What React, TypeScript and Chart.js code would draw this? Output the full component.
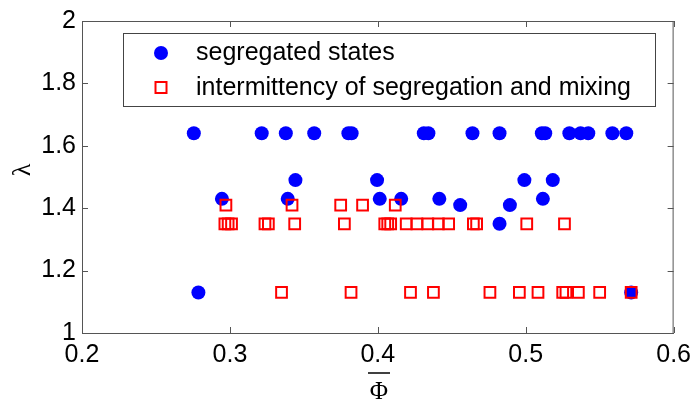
import React, { useEffect, useRef } from 'react';
import { Chart, registerables } from 'chart.js';
Chart.register(...registerables);

const xTicks = [0.2, 0.3, 0.4, 0.5, 0.6];
const yTicks = [1, 1.2, 1.4, 1.6, 1.8, 2];

const segLabel = 'segregated states';
const interLabel = 'intermittency of segregation and mixing';
const xTitle = 'Φ';
const yTitle = 'λ';

const segX = [
  0.2756, 0.3215, 0.3378, 0.357, 0.3801, 0.3823, 0.4311, 0.4342, 0.464, 0.4823, 0.5109, 0.5132, 0.5295, 0.5371, 0.5423, 0.5586, 0.568,
  0.3443, 0.3995, 0.4991, 0.5183,
  0.2946, 0.3391, 0.4013, 0.4158, 0.4416, 0.5116,
  0.4557, 0.4893,
  0.4823,
  0.2787, 0.5713,
];
const segY = [
  1.64, 1.64, 1.64, 1.64, 1.64, 1.64, 1.64, 1.64, 1.64, 1.64, 1.64, 1.64, 1.64, 1.64, 1.64, 1.64, 1.64,
  1.49, 1.49, 1.49, 1.49,
  1.43, 1.43, 1.43, 1.43, 1.43, 1.43,
  1.41, 1.41,
  1.35,
  1.13, 1.13,
];

const interX = [
  0.2973, 0.342, 0.3749, 0.3897, 0.4118,
  0.2966, 0.2988, 0.3011, 0.3237, 0.326, 0.3438, 0.3774, 0.4047, 0.4067, 0.4087, 0.4192, 0.4264, 0.4338, 0.4409, 0.4479, 0.4646, 0.4668, 0.5007, 0.5262,
  0.3349, 0.3819, 0.4221, 0.4376, 0.4758, 0.4957, 0.5083, 0.525, 0.5272, 0.5356, 0.55, 0.5713,
];
const interY = [
  1.41, 1.41, 1.41, 1.41, 1.41,
  1.35, 1.35, 1.35, 1.35, 1.35, 1.35, 1.35, 1.35, 1.35, 1.35, 1.35, 1.35, 1.35, 1.35, 1.35, 1.35, 1.35, 1.35, 1.35,
  1.13, 1.13, 1.13, 1.13, 1.13, 1.13, 1.13, 1.13, 1.13, 1.13, 1.13, 1.13,
];

const FONT = "'Liberation Sans', Arial, Helvetica, sans-serif";
const SERIF = "'Liberation Serif', 'Times New Roman', serif";
const AXIS = '#555555';

const decorPlugin = {
  id: 'decor',
  afterDraw(chart: any) {
    const ctx = chart.ctx;
    const { left, right, top, bottom } = chart.chartArea;
    const xs = chart.scales.x;
    const ys = chart.scales.y;
    ctx.save();
    ctx.strokeStyle = AXIS;
    ctx.lineWidth = 1;
    // box
    ctx.beginPath();
    ctx.moveTo(left, top + 0.5);
    ctx.lineTo(right, top + 0.5);
    ctx.moveTo(right - 0.5, top);
    ctx.lineTo(right - 0.5, bottom);
    ctx.stroke();
    // inward ticks
    const tl = 6;
    ctx.beginPath();
    xTicks.forEach((v) => {
      const px = Math.round(xs.getPixelForValue(v)) + 0.5;
      ctx.moveTo(px, bottom);
      ctx.lineTo(px, bottom - tl);
      ctx.moveTo(px, top);
      ctx.lineTo(px, top + tl);
    });
    yTicks.forEach((v) => {
      const py = Math.round(ys.getPixelForValue(v)) + 0.5;
      ctx.moveTo(left, py);
      ctx.lineTo(left + tl, py);
      ctx.moveTo(right, py);
      ctx.lineTo(right - tl, py);
    });
    ctx.stroke();

    // legend
    const lx = 123.5, ly = 33.5, lw = 532, lh = 73;
    ctx.fillStyle = '#ffffff';
    ctx.fillRect(lx, ly, lw, lh);
    ctx.strokeStyle = '#444444';
    ctx.strokeRect(lx, ly, lw, lh);
    ctx.fillStyle = '#0000ff';
    ctx.beginPath();
    ctx.arc(161, 53, 7, 0, Math.PI * 2);
    ctx.fill();
    ctx.strokeStyle = '#ff0000';
    ctx.lineWidth = 2;
    ctx.strokeRect(155.5, 82, 11, 11);
    ctx.fillStyle = '#000000';
    ctx.font = `25px ${FONT}`;
    ctx.textAlign = 'left';
    ctx.textBaseline = 'middle';
    ctx.fillText(segLabel, 196, 53);
    ctx.fillText(interLabel, 196, 88);

    // x title with overline
    const cx = 379;
    ctx.textAlign = 'center';
    ctx.textBaseline = 'middle';
    ctx.font = `25px ${SERIF}`;
    ctx.fillText(xTitle, cx, 392);
    ctx.strokeStyle = '#000000';
    ctx.lineWidth = 1.5;
    ctx.beginPath();
    ctx.moveTo(cx - 11, 373);
    ctx.lineTo(cx + 11, 373);
    ctx.stroke();

    // y title rotated
    ctx.save();
    ctx.translate(23, 170);
    ctx.rotate(-Math.PI / 2);
    ctx.font = `26px ${SERIF}`;
    ctx.fillText(yTitle, 0, 0);
    ctx.restore();
    ctx.restore();
  },
};

export default function App() {
  const ref = useRef<HTMLCanvasElement | null>(null);
  useEffect(() => {
    if (!ref.current) return;
    const chart = new Chart(ref.current, {
      type: 'scatter',
      data: {
        datasets: [
          {
            label: segLabel,
            data: segX.map((x, i) => ({ x, y: segY[i] })),
            backgroundColor: '#0000ff',
            borderColor: '#0000ff',
            pointStyle: 'circle',
            pointRadius: 7,
            borderWidth: 0,
            order: 1,
          },
          {
            label: interLabel,
            data: interX.map((x, i) => ({ x, y: interY[i] })),
            backgroundColor: 'rgba(0,0,0,0)',
            borderColor: '#ff0000',
            pointStyle: 'rect',
            pointRadius: 7.6,
            borderWidth: 2,
            order: 0,
          },
        ],
      },
      options: {
        responsive: false,
        animation: false,
        layout: { padding: { left: 0, top: 16, right: 20, bottom: 0 } },
        plugins: { legend: { display: false }, tooltip: { enabled: false } },
        scales: {
          x: {
            type: 'linear',
            min: 0.2,
            max: 0.6,
            afterBuildTicks: (s: any) => { s.ticks = xTicks.map((v) => ({ value: v })); },
            afterFit: (s: any) => { s.height = 68; },
            ticks: {
              color: '#000000',
              font: { size: 25, family: FONT },
              padding: 7,
              maxRotation: 0,
              callback: (v: any) => Number(v).toFixed(1),
            },
            grid: { drawOnChartArea: false, drawTicks: false },
            border: { display: true, color: AXIS, width: 1 },
          },
          y: {
            type: 'linear',
            min: 1,
            max: 2,
            afterBuildTicks: (s: any) => { s.ticks = yTicks.map((v) => ({ value: v })); },
            afterFit: (s: any) => { s.width = 82; },
            ticks: {
              color: '#000000',
              font: { size: 25, family: FONT },
              padding: 6,
              callback: (v: any) => String(Number(Number(v).toFixed(1))),
            },
            grid: { drawOnChartArea: false, drawTicks: false },
            border: { display: true, color: AXIS, width: 1 },
          },
        },
      },
      plugins: [decorPlugin],
    });
    return () => chart.destroy();
  }, []);
  return (
    <div style={{ position: 'absolute', left: 0, top: 0, width: 698, height: 401, background: '#ffffff' }}>
      <canvas ref={ref} width={698} height={401} style={{ width: 698, height: 401 }} />
    </div>
  );
}
